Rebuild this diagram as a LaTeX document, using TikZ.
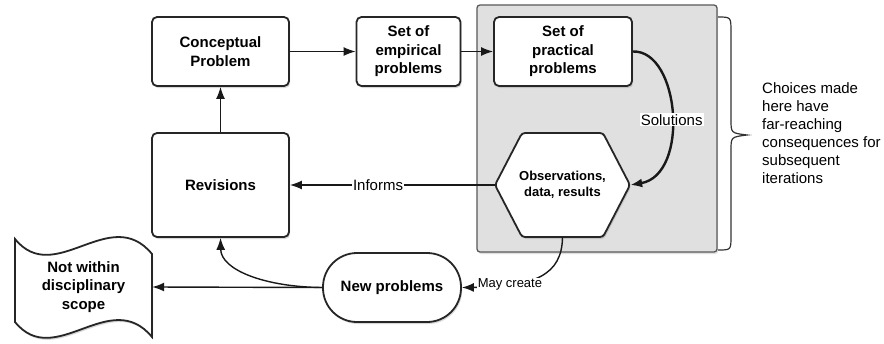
\documentclass[tikz,border=0pt]{standalone}
\usepackage{fontspec}
\setmainfont{Liberation Sans}
\usetikzlibrary{arrows.meta,shadows}
\begin{document}
\begin{tikzpicture}[x=1pt,y=-1pt,
  shp/.style={draw=black!85, line width=1.8pt, fill=white,
    drop shadow={opacity=0.3, shadow xshift=1.2pt, shadow yshift=-2pt}},
  box/.style={shp, rounded corners=5pt, align=center, inner sep=0pt,
    font=\bfseries\fontsize{15}{18.5}\selectfont},
  txt/.style={align=center, inner sep=0pt, font=\bfseries\fontsize{15}{18.5}\selectfont},
  graybox/.style={draw=black!65, line width=1.3pt, fill=black!12, rounded corners=3pt,
    drop shadow={opacity=0.25, shadow xshift=1.2pt, shadow yshift=-2pt}},
  arr/.style={-{Latex[length=12pt,width=9pt]}, line width=1.4pt, draw=black!90},
  lbl/.style={fill=white, inner sep=1pt, font=\fontsize{15}{18}\selectfont},
]
\useasboundingbox (0,0) rectangle (884,343);
\fill[white] (0,0) rectangle (884,343);

% gray region
\draw[graybox] (477,5) rectangle (717,252);

% boxes
\node[box, minimum width=137, minimum height=69] (cp) at (220.5,51.5) {Conceptual\\Problem};
\node[box, minimum width=104, minimum height=69] (emp) at (408.5,51.5) {Set of\\empirical\\problems};
\node[box, minimum width=138, minimum height=69] (prac) at (563,51.5) {Set of\\practical\\problems};
\node[box, minimum width=137, minimum height=104] (rev) at (220.5,185) {Revisions};
\node[box, rounded corners=34pt, minimum width=138, minimum height=69] (newp) at (392,287.5) {New problems};

% hexagon
\draw[shp, rounded corners=3pt] (495,185) -- (522,133) -- (603,133) -- (630,185) -- (603,237) -- (522,237) -- cycle;
\node[txt, minimum width=135, minimum height=104, font=\bfseries\fontsize{13}{16}\selectfont] (hex) at (562.5,185) {Observations,\\data, results};

% document shape
\draw[shp] (15,239) .. controls (55,288) and (110,203) .. (152,254) -- (152,337)
  .. controls (110,286) and (55,371) .. (15,322) -- cycle;
\node[txt, minimum width=137, minimum height=60] (nw) at (83.5,287) {Not within\\disciplinary\\scope};

% connectors
\draw[arr] (rev) -- (cp);
\draw[arr] (cp) -- (emp);
\draw[arr] (emp) -- (prac);
\draw[arr, line width=2.4pt] (prac.east) .. controls (680,50) and (690,175) .. node[pos=0.53, lbl]{Solutions} (hex.east);
\draw[arr] (hex.west) -- node[lbl, pos=0.57]{Informs} (rev.east);
\draw[arr] (hex.south) .. controls (562,275) and (535,287) .. node[pos=0.74, lbl, font=\fontsize{13}{16}\selectfont]{May create} (newp.east);
\draw[arr] (newp.west) -- (nw.east);
\draw[arr] (newp.west) .. controls (265,287) and (221,270) .. (rev.south);

% brace
\draw[line width=1.2pt, draw=black!80] (718,17) .. controls (731,17) .. (731,32) -- (731,120)
  .. controls (731,133) .. (747,135) .. controls (731,137) .. (731,150) -- (731,236)
  .. controls (731,250) .. (718,250);
\node[anchor=west, align=left, inner sep=0pt, font=\fontsize{15}{18}\selectfont] (ch) at (762,133)
  {Choices made\\here have\\far-reaching\\consequences for\\subsequent\\iterations};
\end{tikzpicture}
\end{document}
